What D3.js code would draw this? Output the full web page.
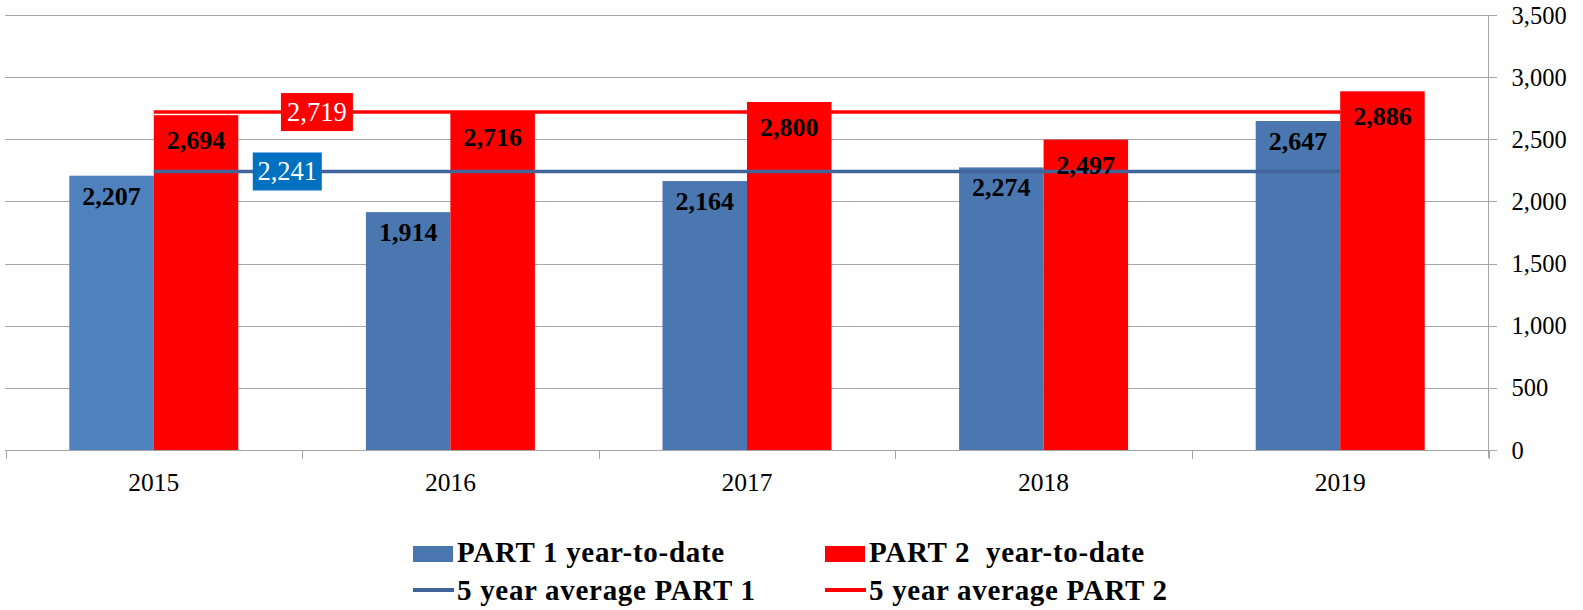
<!DOCTYPE html>
<html>
<head>
<meta charset="utf-8">
<script src="https://cdn.jsdelivr.net/npm/d3@7"></script>
<style>
  html, body { margin: 0; padding: 0; background: #fff; }
  svg { display: block; }
</style>
</head>
<body>
<svg id="chart" width="1583" height="610"></svg>
<script>
const years = ["2015", "2016", "2017", "2018", "2019"];
const part1 = [2207, 1914, 2164, 2274, 2647];
const part2 = [2694, 2716, 2800, 2497, 2886];
const avg1 = 2241;
const avg2 = 2719;
const yTicks = [0, 500, 1000, 1500, 2000, 2500, 3000, 3500];
const legendLabels = ["PART 1 year-to-date", "PART 2  year-to-date", "5 year average PART 1", "5 year average PART 2"];

const svg = d3.select("#chart");
const FONT = "'Liberation Serif', 'Times New Roman', serif";

const x = d3.scaleBand().domain(years).range([5.5, 1488.5]).paddingInner(0).paddingOuter(0);
const y = d3.scaleLinear().domain([0, 3500]).range([450, 15]);
const barW = 84.5;

// gridlines
svg.append("g").selectAll("line").data(yTicks).join("line")
  .attr("x1", 5).attr("x2", 1497)
  .attr("y1", d => Math.round(y(d)) + 0.5).attr("y2", d => Math.round(y(d)) + 0.5)
  .attr("stroke", "#A6A6A6").attr("stroke-width", 1);

// right axis
const yAxis = d3.axisRight(y).tickValues(yTicks).tickSize(0).tickPadding(0)
  .tickFormat(d3.format(","));
const ya = svg.append("g").attr("transform", "translate(1488.5,0)").call(yAxis);
ya.select(".domain").remove();
ya.append("line").attr("x1", 0).attr("x2", 0).attr("y1", 15).attr("y2", 458)
  .attr("stroke", "#A6A6A6");
ya.selectAll("text").attr("x", 23).attr("font-family", FONT).attr("font-size", 24.5)
  .attr("fill", "#000").attr("dy", "0.33em");

// bottom axis
const xa = svg.append("g").attr("transform", "translate(0,450.5)")
  .call(d3.axisBottom(x).tickSize(0).tickPadding(0));
xa.select(".domain").remove();
xa.selectAll("text").attr("y", 40).attr("dy", 0).attr("font-family", FONT)
  .attr("font-size", 25.5).attr("fill", "#000");
const bounds = years.map(d => x(d)).concat([x(years[years.length - 1]) + x.bandwidth()]);
svg.append("g").selectAll("line").data(bounds).join("line")
  .attr("x1", d => Math.round(d) + 0.5).attr("x2", d => Math.round(d) + 0.5)
  .attr("y1", 450).attr("y2", 459).attr("stroke", "#A6A6A6");

// bars
const cx = d => x(d) + x.bandwidth() / 2;
svg.append("g").selectAll("rect").data(part1).join("rect")
  .attr("x", (d, i) => cx(years[i]) - barW).attr("width", barW)
  .attr("y", d => y(d)).attr("height", d => y(0) - y(d))
  .attr("fill", (d, i) => i === 0 ? "#4F81BD" : "#4A77B0");
svg.append("g").selectAll("rect").data(part2).join("rect")
  .attr("x", (d, i) => cx(years[i])).attr("width", barW)
  .attr("y", d => y(d)).attr("height", d => y(0) - y(d))
  .attr("fill", "#FF0000");

// average lines
const line = d3.line().x(d => cx(d[0])).y(d => y(d[1]));
svg.append("path").attr("d", line(years.map(t => [t, avg1])))
  .attr("stroke", "#41659A").attr("stroke-width", 3.5).attr("fill", "none");
svg.append("path").attr("d", line(years.map(t => [t, avg2])))
  .attr("stroke", "#FF0000").attr("stroke-width", 3.5).attr("fill", "none");

// bar labels
const fmt = d3.format(",");
svg.append("g").selectAll("text").data(part1).join("text")
  .attr("x", (d, i) => cx(years[i]) - barW / 2).attr("y", d => y(d) + 29)
  .attr("text-anchor", "middle").attr("font-family", FONT).attr("font-weight", "bold")
  .attr("font-size", 26).attr("fill", "#000").text(d => fmt(d));
svg.append("g").selectAll("text").data(part2).join("text")
  .attr("x", (d, i) => cx(years[i]) + barW / 2).attr("y", d => y(d) + 34)
  .attr("text-anchor", "middle").attr("font-family", FONT).attr("font-weight", "bold")
  .attr("font-size", 26).attr("fill", "#000").text(d => fmt(d));

// average labels
function avgLabel(val, frac, w, fill) {
  const px = cx(years[0]) + frac * x.step();
  const py = y(val);
  svg.append("rect").attr("x", px - w / 2).attr("y", py - 19).attr("width", w).attr("height", 38)
    .attr("fill", fill);
  svg.append("text").attr("x", px).attr("y", py + 9).attr("text-anchor", "middle")
    .attr("font-family", FONT).attr("font-size", 26.5).attr("fill", "#fff").text(fmt(val));
}
avgLabel(avg2, 0.55, 72, "#FF0000");
avgLabel(avg1, 0.45, 69, "#0070C0");

// legend
const lg = svg.append("g");
const legendItems = [
  {x: 413, row: 0, type: "rect", color: "#4A77B0"},
  {x: 825, row: 0, type: "rect", color: "#FF0000"},
  {x: 413, row: 1, type: "line", color: "#41659A"},
  {x: 825, row: 1, type: "line", color: "#FF0000"}
];
legendItems.forEach((it, i) => {
  const base = it.row === 0 ? 562 : 600;
  if (it.type === "rect") {
    lg.append("rect").attr("x", it.x).attr("y", 546).attr("width", 40).attr("height", 16)
      .attr("fill", it.color);
  } else {
    lg.append("line").attr("x1", it.x).attr("x2", it.x + 41).attr("y1", 590).attr("y2", 590)
      .attr("stroke", it.color).attr("stroke-width", 4);
  }
  lg.append("text").attr("x", it.x + 44).attr("y", base).attr("font-family", FONT)
    .attr("font-weight", "bold").attr("font-size", 29).attr("letter-spacing", "0.7px")
    .attr("fill", "#000")
    .attr("xml:space", "preserve").style("white-space", "pre").text(legendLabels[i]);
});
</script>
</body>
</html>
